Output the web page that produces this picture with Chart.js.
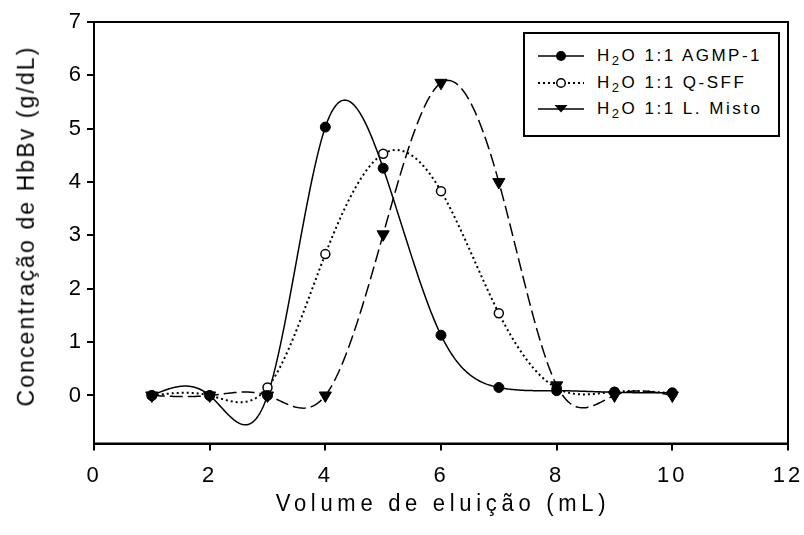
<!DOCTYPE html>
<html><head><meta charset="utf-8">
<script src="https://cdn.jsdelivr.net/npm/chart.js@4"></script>
<style>
html,body{margin:0;padding:0;background:#fff;}
#wrap{position:relative;width:804px;height:535px;overflow:hidden;}
#c{position:absolute;left:0;top:0;}
.t{position:absolute;font-family:"Liberation Sans",Arial,sans-serif;color:#000;white-space:nowrap;line-height:1;}
#xt{left:443px;top:503px;transform:translate(-50%,-50%) scaleY(1.1);font-size:22px;letter-spacing:4.7px;}
#yt{left:26px;top:226px;transform:translate(-50%,-50%) rotate(-90deg) scaleY(1.05);font-size:23px;letter-spacing:2.1px;}
#legend{position:absolute;left:523px;top:32px;width:253px;height:101px;border:2px solid #000;background:#fff;}
.row{position:absolute;left:0;width:253px;height:20px;}
.row svg{position:absolute;left:13px;top:3px;}
.row .lab{position:absolute;left:72px;top:1px;font-family:"Liberation Sans",Arial,sans-serif;font-size:17px;letter-spacing:2.5px;white-space:nowrap;line-height:1;}
.sub{font-size:13px;position:relative;top:4px;}
</style>
</head><body>
<div id="wrap">
<canvas id="c" width="804" height="535"></canvas>
<div class="t" id="xt">Volume de eluição (mL)</div>
<div class="t" id="yt">Concentração de HbBv (g/dL)</div>
<div id="legend"></div>
</div>
<script>
// ---- data ----
const volumes = [1, 2, 3, 4, 5, 6, 7, 8, 9, 10];
const agmp1   = [0, 0, 0, 5.03, 4.26, 1.13, 0.15, 0.09, 0.06, 0.05];
const qsff    = [0, 0, 0.15, 2.65, 4.53, 3.83, 1.54, 0.14, 0.07, 0.04];
const lmisto  = [0, 0, 0, 0, 3.02, 5.86, 4.0, 0.19, 0, 0];
const seriesNames = ['1:1 AGMP-1', '1:1 Q-SFF', '1:1 L. Misto'];
const xTicks = [0, 2, 4, 6, 8, 10, 12];
const yTicks = [0, 1, 2, 3, 4, 5, 6, 7];

function naturalSpline(xs, ys) {
  const n = xs.length, h = [], alpha = [], l = [], mu = [], z = [], b = [], c = [], d = [];
  for (let i = 0; i < n - 1; i++) h[i] = xs[i + 1] - xs[i];
  for (let i = 1; i < n - 1; i++) alpha[i] = 3 / h[i] * (ys[i + 1] - ys[i]) - 3 / h[i - 1] * (ys[i] - ys[i - 1]);
  l[0] = 1; mu[0] = 0; z[0] = 0;
  for (let i = 1; i < n - 1; i++) {
    l[i] = 2 * (xs[i + 1] - xs[i - 1]) - h[i - 1] * mu[i - 1];
    mu[i] = h[i] / l[i];
    z[i] = (alpha[i] - h[i - 1] * z[i - 1]) / l[i];
  }
  c[n - 1] = 0;
  for (let j = n - 2; j >= 0; j--) {
    c[j] = z[j] - mu[j] * c[j + 1];
    b[j] = (ys[j + 1] - ys[j]) / h[j] - h[j] * (c[j + 1] + 2 * c[j]) / 3;
    d[j] = (c[j + 1] - c[j]) / (3 * h[j]);
  }
  return { seg: n - 1, f: (j, x) => { const dx = x - xs[j]; return ys[j] + b[j] * dx + c[j] * dx * dx + d[j] * dx * dx * dx; } };
}

const lineStyles = [
  { dash: [], width: 1.5 },
  { dash: [2, 3], width: 2 },
  { dash: [13, 5], width: 1.5 }
];

const splinePlugin = {
  id: 'spline',
  beforeDatasetsDraw(chart) {
    const ctx = chart.ctx, xs = chart.scales.x, ys = chart.scales.y;
    chart.data.datasets.forEach((ds) => {
      const px = ds.data.map(p => p.x), py = ds.data.map(p => p.y);
      const sp = naturalSpline(px, py);
      ctx.save();
      ctx.strokeStyle = '#000';
      ctx.lineWidth = ds.curveWidth;
      ctx.setLineDash(ds.curveDash);
      ctx.lineJoin = 'round';
      ctx.beginPath();
      let first = true;
      for (let j = 0; j < sp.seg; j++) {
        const steps = 40;
        for (let s = (j === 0 ? 0 : 1); s <= steps; s++) {
          const xv = px[j] + (px[j + 1] - px[j]) * s / steps;
          const X = xs.getPixelForValue(xv), Y = ys.getPixelForValue(sp.f(j, xv));
          if (first) { ctx.moveTo(X, Y); first = false; } else ctx.lineTo(X, Y);
        }
      }
      ctx.stroke();
      ctx.restore();
    });
  },
  beforeDraw(chart) { chart.ctx.letterSpacing = '3px'; },
  afterDraw(chart) {
    const a = chart.chartArea, ctx = chart.ctx;
    ctx.save();
    ctx.strokeStyle = '#000'; ctx.lineWidth = 2;
    ctx.strokeRect(a.left, a.top, a.right - a.left, a.bottom - a.top);
    ctx.restore();
  }
};

const toPts = arr => volumes.map((v, i) => ({ x: v, y: arr[i] }));
const tickFont = { family: '"Liberation Sans", Arial, sans-serif', size: 22 };

const chart = new Chart(document.getElementById('c'), {
  type: 'scatter',
  data: {
    datasets: [
      { label: seriesNames[0], data: toPts(agmp1), showLine: false, pointStyle: 'circle', pointRadius: 5,
        backgroundColor: '#000', borderColor: '#000', borderWidth: 1, order: 1,
        curveDash: lineStyles[0].dash, curveWidth: lineStyles[0].width },
      { label: seriesNames[1], data: toPts(qsff), showLine: false, pointStyle: 'circle', pointRadius: 4.5,
        backgroundColor: '#fff', borderColor: '#000', borderWidth: 1.5, order: 3,
        curveDash: lineStyles[1].dash, curveWidth: lineStyles[1].width },
      { label: seriesNames[2], data: toPts(lmisto), showLine: false, pointStyle: 'triangle', pointRadius: 7, rotation: 180,
        backgroundColor: '#000', borderColor: '#000', borderWidth: 1, order: 2,
        curveDash: lineStyles[2].dash, curveWidth: lineStyles[2].width }
    ]
  },
  options: {
    responsive: false,
    animation: false,
    events: [],
    layout: { padding: { top: 22, right: 16, left: 0, bottom: 0 } },
    plugins: { legend: { display: false }, tooltip: { enabled: false } },
    scales: {
      x: {
        type: 'linear', min: 0, max: 12,
        afterBuildTicks: s => { s.ticks = xTicks.map(v => ({ value: v })); },
        afterFit: s => { s.height = 91.5; s.paddingLeft = 0; s.paddingRight = 0; },
        grid: { drawOnChartArea: false, drawTicks: true, tickLength: 7, color: '#000', lineWidth: 2 },
        border: { display: true, color: '#000', width: 2 },
        ticks: { color: '#000', padding: 12, maxRotation: 0, font: tickFont }
      },
      y: {
        type: 'linear', min: -0.9, max: 7,
        afterBuildTicks: s => { s.ticks = yTicks.map(v => ({ value: v })); },
        afterFit: s => { s.width = 94; s.paddingTop = 0; s.paddingBottom = 0; },
        grid: { drawOnChartArea: false, drawTicks: true, tickLength: 7, color: '#000', lineWidth: 2 },
        border: { display: true, color: '#000', width: 2 },
        ticks: { color: '#000', padding: 3, font: tickFont }
      }
    }
  },
  plugins: [splinePlugin]
});

// ---- legend (HTML, real text) ----
const legend = document.getElementById('legend');
const rowTops = [12, 39, 65];
const markers = [
  '<circle cx="23" cy="7" r="5" fill="#000"/>',
  '<circle cx="23" cy="7" r="4.3" fill="#fff" stroke="#000" stroke-width="1.5"/>',
  '<polygon points="16.5,3 29.5,3 23,10.5" fill="#000"/>'
];
const legendDash = ['', '2,3', ''];
seriesNames.forEach((name, i) => {
  const row = document.createElement('div');
  row.className = 'row';
  row.style.top = rowTops[i] + 'px';
  row.innerHTML =
    '<svg width="46" height="14"><line x1="0" y1="7" x2="46" y2="7" stroke="#000" stroke-width="' + (i === 1 ? 2 : 1.5) + '"' +
    (legendDash[i] ? ' stroke-dasharray="' + legendDash[i] + '"' : '') + '/>' + markers[i] + '</svg>' +
    '<span class="lab">H<span class="sub">2</span>O ' + name + '</span>';
  legend.appendChild(row);
});
</script>
</body></html>
